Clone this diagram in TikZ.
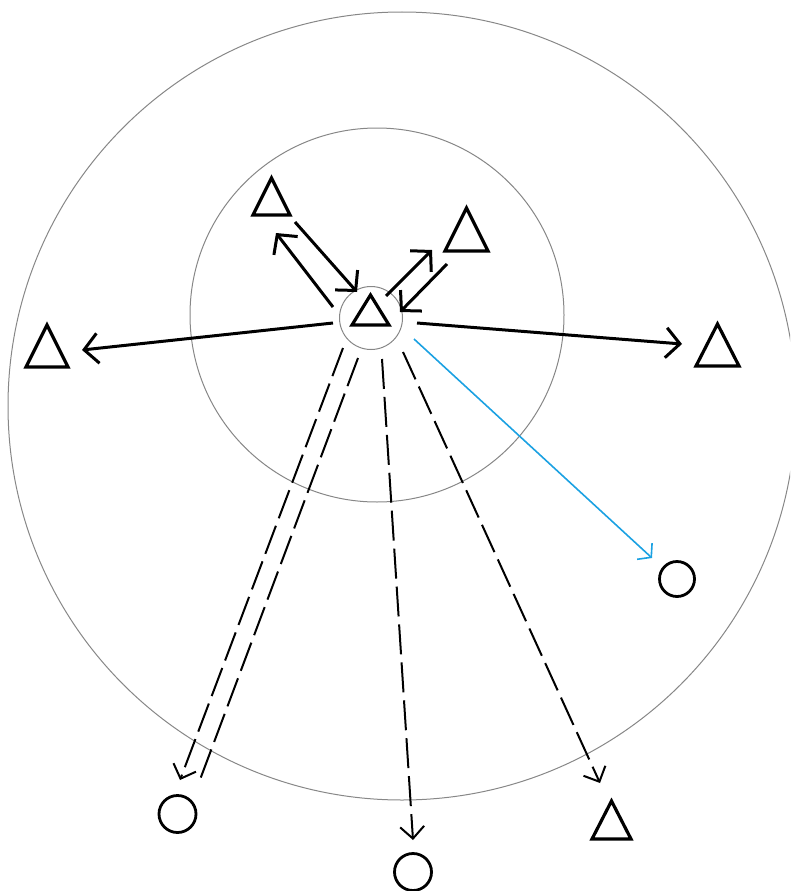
\documentclass[tikz,border=0pt]{standalone}
\usetikzlibrary{arrows.meta,calc}
\definecolor{skyblue}{RGB}{27,161,226}
\definecolor{ringgray}{RGB}{135,135,135}
\tikzset{
  ring/.style={draw=ringgray,line width=1pt},
  tribox/.style={line width=3.2pt,line join=miter},
  circnode/.style={circle,draw,line width=2.8pt,inner sep=0pt,minimum size=#1},
  solidarrow/.style={line width=3pt,-{Straight Barb[length=14pt,width=30pt]}},
  dasharrow/.style={line width=2pt,dash pattern=on 30pt off 8pt,-{Straight Barb[length=12pt,width=24pt]}},
  dashline/.style={line width=2pt,dash pattern=on 30pt off 8pt},
  bluearrow/.style={draw=skyblue,line width=1.6pt,-{Straight Barb[length=9pt,width=22pt]}}
}
\newcommand{\mytri}[3]{\draw[tribox] ($(#1)+(-#2/2,#3/2)$) -- ($(#1)+(0,-#3/2)$) -- ($(#1)+(#2/2,#3/2)$) -- cycle;}
\begin{document}
\begin{tikzpicture}[x=1pt,y=-1pt]
\useasboundingbox (0,0) rectangle (790,891);
\clip (0,0) rectangle (790,891);
% rings
\draw[ring] (402,406) circle (394);
\draw[ring] (377,315) circle (187);
\draw[ring] (371,318) circle (31.5);
% triangles
\coordinate (tc) at (370.5,310);
\coordinate (tul) at (271.5,196.5);
\coordinate (tur) at (466.5,229.5);
\coordinate (tl) at (47,346);
\coordinate (tr) at (717.5,345);
\coordinate (tbr) at (611.5,820);
\mytri{tc}{37}{30}
\mytri{tul}{37}{37}
\mytri{tur}{43}{43}
\mytri{tl}{42}{42}
\mytri{tr}{43}{42}
\mytri{tbr}{39}{38}
% circles
\node[circnode=35pt] (crc) at (677,579) {};
\node[circnode=37pt] (cbl) at (177.5,814) {};
\node[circnode=37pt] (cb) at (413,872) {};
% connector end points
\coordinate (a1s) at (333,307); \coordinate (a1e) at (276,233);
\coordinate (a2s) at (295,222); \coordinate (a2e) at (357,292);
\coordinate (a3s) at (386,296); \coordinate (a3e) at (432,250);
\coordinate (a4s) at (447,264); \coordinate (a4e) at (400,312);
\coordinate (a5s) at (333,323); \coordinate (a5e) at (82,350);
\coordinate (a6s) at (417,323); \coordinate (a6e) at (682,344);
\coordinate (bs) at (414,339); \coordinate (be) at (652,558);
\coordinate (d1s) at (343,348); \coordinate (d1e) at (180,780);
\coordinate (d2s) at (358,358); \coordinate (d2e) at (198,785);
\coordinate (d3s) at (382,359); \coordinate (d3e) at (413,840);
\coordinate (d4s) at (403,352); \coordinate (d4e) at (600,783);
% connectors
\draw[solidarrow] (a1s) -- (a1e);
\draw[solidarrow] (a2s) -- (a2e);
\draw[solidarrow] (a3s) -- (a3e);
\draw[solidarrow] (a4s) -- (a4e);
\draw[solidarrow] (a5s) -- (a5e);
\draw[solidarrow] (a6s) -- (a6e);
\draw[bluearrow] (bs) -- (be);
\draw[dasharrow] (d1s) -- (d1e);
\draw[dashline] (d2s) -- (d2e);
\draw[dasharrow] (d3s) -- (d3e);
\draw[dasharrow] (d4s) -- (d4e);
\end{tikzpicture}
\end{document}
